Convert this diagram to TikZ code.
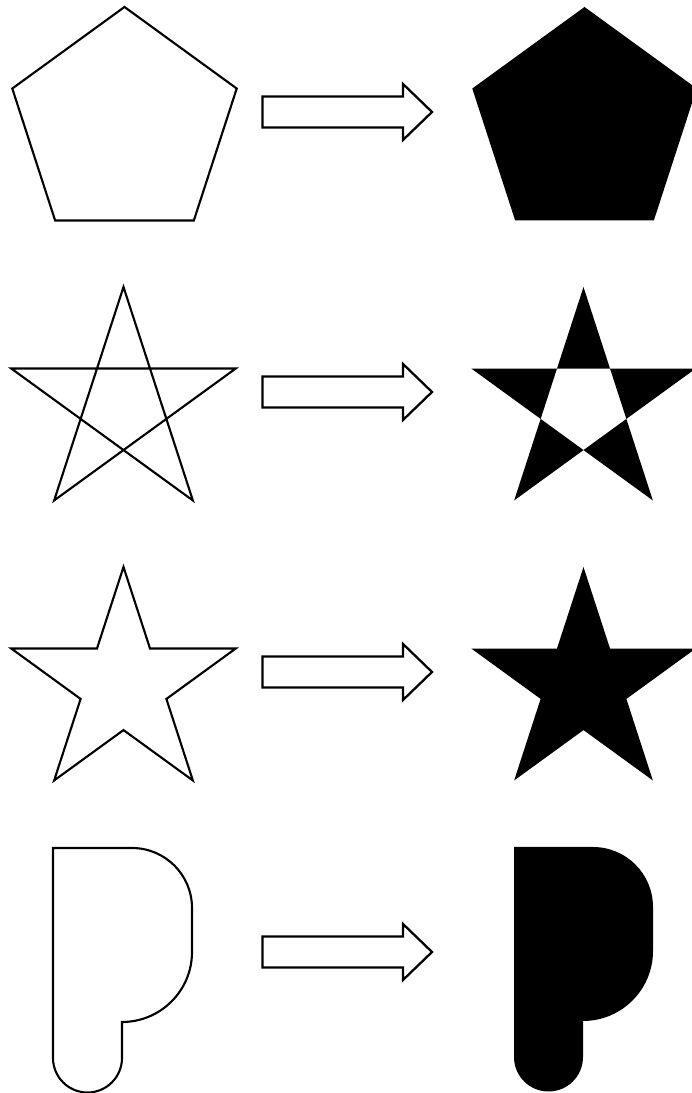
\documentclass[tikz,border=0pt]{standalone}
\usetikzlibrary{calc}

\begin{document}
\begin{tikzpicture}[
    x=0.1mm, y=0.1mm,
    outline/.style={draw, line width=0.6pt, line join=miter},
    inked/.style={fill=black},
    blockarrow/.style={draw, line width=0.65pt, line join=miter}
]
\useasboundingbox (0,0) rectangle (691,1093);

% centres of the shapes, left and right column
\coordinate (penta)  at (124.5,968);
\coordinate (gram)   at (123.5,688);
\coordinate (stara)  at (123.5,408);
\coordinate (pentaf) at (584.5,968);
\coordinate (gramf)  at (583.5,688);
\coordinate (staraf) at (583.5,408);

% row 1: pentagon
\draw[outline, shift={(penta)}] (90:118) -- (162:118) -- (234:118) -- (306:118) -- (18:118) -- cycle;
\fill[inked, shift={(pentaf)}] (90:118) -- (162:118) -- (234:118) -- (306:118) -- (18:118) -- cycle;

% row 2: crossed star
\draw[outline, shift={(gram)}] (90:118) \foreach \a in {234,378,522,666} { -- (\a:118) } -- cycle;
\fill[inked, even odd rule, shift={(gramf)}] (90:118) \foreach \a in {234,378,522,666} { -- (\a:118) } -- cycle;

% row 3: plain star
\draw[outline, shift={(stara)}] (90:118) \foreach \a in {90,162,234,306,378} { -- (\a:118) -- ({\a+36}:45.1) } -- cycle;
\fill[inked, shift={(staraf)}] (90:118) \foreach \a in {90,162,234,306,378} { -- (\a:118) -- ({\a+36}:45.1) } -- cycle;

% row 4: letter P
\draw[outline] (53,245) -- (132,245) arc[start angle=90, end angle=0, radius=60]
    -- (192,141) arc[start angle=0, end angle=-90, radius=70]
    -- (122,35) arc[start angle=0, end angle=-180, radius=34.5] -- cycle;
\fill[inked, shift={(461,1)}] (53,245) -- (132,245) arc[start angle=90, end angle=0, radius=60]
    -- (192,141) arc[start angle=0, end angle=-90, radius=70]
    -- (122,35) arc[start angle=0, end angle=-180, radius=34.5] -- cycle;

% block arrows between the columns
\foreach \row in {981,701,421,141} {
  \coordinate (tip) at (432,\row);
  \draw[blockarrow] (262.5,\row+15.5) -- (403,\row+15.5) -- (403,\row+28) -- (tip)
      -- (403,\row-28) -- (403,\row-15.5) -- (262.5,\row-15.5) -- cycle;
}
\end{tikzpicture}
\end{document}
